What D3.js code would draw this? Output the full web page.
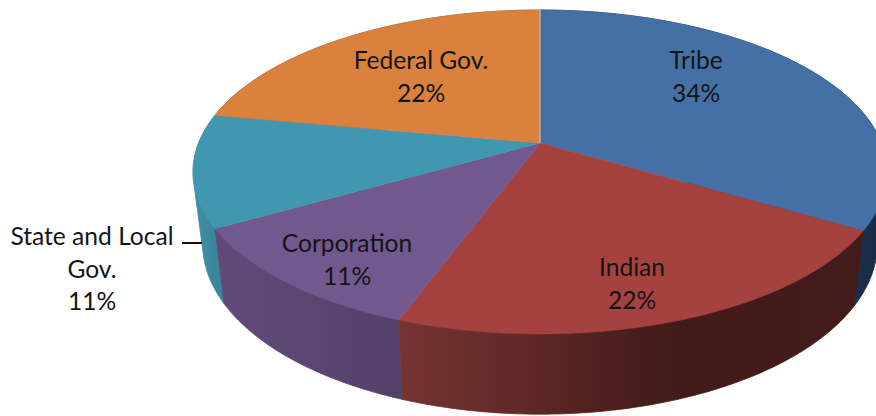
<!DOCTYPE html>
<html>
<head>
<meta charset="utf-8">
<script src="https://cdn.jsdelivr.net/npm/d3@7"></script>
<style>
html,body{margin:0;padding:0;background:#fff;overflow:hidden}
svg{display:block}
text{font-family:Lato,"Open Sans",sans-serif;font-size:24.6px;fill:#141414;text-anchor:middle}
</style>
</head>
<body>
<svg id="chart" width="876" height="416"></svg>
<script>
// data
const categories = ["Tribe", "Indian", "Corporation", "State and Local Gov.", "Federal Gov."];
const shares = [33.5, 22.1, 11.1, 11.2, 22.1];
const percentLabels = ["34%", "22%", "11%", "11%", "22%"];

// styles
const topColors = ["#4570a6", "#a54240", "#71588f", "#4197af", "#d9813d"];
const wallStops = [
  ["#1b3049", "#182c44"],
  [[0, "#753433"], [0.3, "#5e2726"], [0.48, "#4a1f1d"], [0.61, "#421b18"], [1, "#421c1a"]],
  ["#62497a", "#5c4570", "#53406a"],
  ["#3f8ea5", "#3a8297"],
  ["#8a5226", "#8a5226"]
];
const wallSpans = [[850, 880], [400, 860], [222, 404], [195, 225], [200, 540]];
const wallOrder = [4, 3, 0, 2, 1]; // back to front
// label layout: centre x and first baseline y of each block, with its wrapped lines
const labelLines = [["Tribe"], ["Indian"], ["Corporation"], ["State and Local", "Gov."], ["Federal Gov."]];
const labelX = [696, 632, 347, 92, 421];
const labelY = [69, 276, 252, 245, 69];
const lineStep = 32.5;

// projection of the tilted disc
const apex = {x: 540, y: 143};
const persp = 0.179, radX = 341.4, radY = 156.8;
const wallScale = 0.972, wallStretch = 1.05, wallShift = 63.5;
const SAMPLE = 0.01;

function rim(theta) {
  const w = 1 + persp * Math.cos(theta);
  return [apex.x + radX * Math.sin(theta) / w, apex.y - radY * Math.cos(theta) / w];
}
function lower(p) {
  return [apex.x + wallScale * (p[0] - apex.x), wallStretch * p[1] + wallShift];
}
function arcPoints(a, b) {
  const n = Math.max(2, Math.ceil((b - a) / SAMPLE));
  return d3.range(n + 1).map(i => rim(a + (b - a) * i / n));
}

const pie = d3.pie().sort(null).value(d => d);
const slices = pie(shares);
const svg = d3.select("#chart");
const line = d3.line();
const defs = svg.append("defs");

// side walls: the hull of a slice's upper and lower rim; the top surface hides the inner side
slices.forEach((s, i) => {
  const g = defs.append("linearGradient").attr("id", "wall" + i)
    .attr("gradientUnits", "userSpaceOnUse")
    .attr("x1", wallSpans[i][0]).attr("x2", wallSpans[i][1])
    .attr("y1", 0).attr("y2", 0);
  wallStops[i].forEach((c, k, all) => {
    const stop = Array.isArray(c) ? c : [k / (all.length - 1), c];
    g.append("stop").attr("offset", stop[0]).attr("stop-color", stop[1]);
  });
});
svg.append("g").selectAll("path").data(wallOrder).join("path")
  .attr("fill", i => `url(#wall${i})`)
  .attr("stroke", i => `url(#wall${i})`)
  .attr("stroke-width", 0.8)
  .attr("d", i => {
    const up = arcPoints(slices[i].startAngle, slices[i].endAngle);
    return line(d3.polygonHull(up.concat(up.map(lower)))) + "Z";
  });

// top surface
svg.append("g").selectAll("path").data(slices).join("path")
  .attr("fill", (d, i) => topColors[i])
  .attr("stroke", (d, i) => topColors[i])
  .attr("stroke-width", 0.5)
  .attr("d", d => line([[apex.x, apex.y]].concat(arcPoints(d.startAngle, d.endAngle))) + "Z");

// pale seam on the first slice boundary
const seam = rim(slices[0].startAngle);
svg.append("line")
  .attr("x1", apex.x).attr("y1", apex.y).attr("x2", seam[0]).attr("y2", seam[1])
  .attr("stroke", "#c9c6c2").attr("stroke-width", 1);

// leader line
svg.append("line")
  .attr("x1", 182).attr("x2", 202).attr("y1", 243).attr("y2", 243)
  .attr("stroke", "#111").attr("stroke-width", 2);

// labels
slices.forEach((s, i) => {
  const lines = labelLines[i].concat([percentLabels[i]]);
  const t = svg.append("text").attr("aria-label", categories[i]);
  lines.forEach((l, k) =>
    t.append("tspan").attr("x", labelX[i]).attr("y", labelY[i] + k * lineStep).text(l));
});
</script>
</body>
</html>
